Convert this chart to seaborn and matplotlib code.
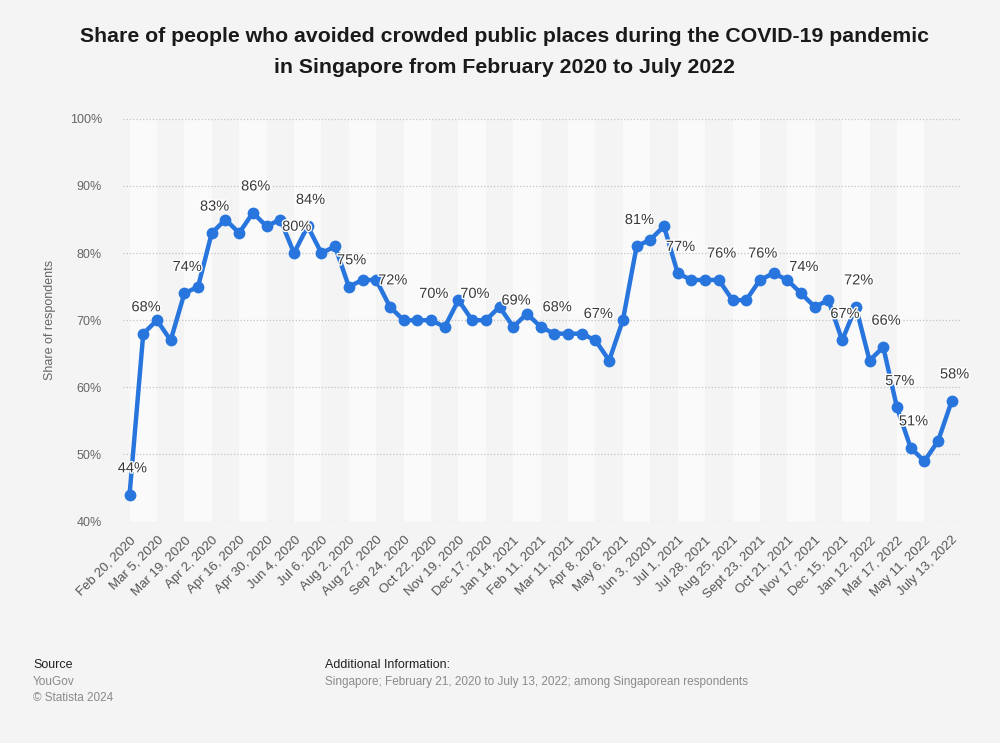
import numpy as np
import pandas as pd
import matplotlib
matplotlib.use('Agg')
import matplotlib.pyplot as plt
import matplotlib.patheffects as pe
import seaborn as sns

# data (survey waves, every other wave is labelled on the axis)
share = [44, 68, 70, 67, 74, 75, 83, 85, 83, 86, 84, 85, 80, 84, 80, 81, 75, 76, 76, 72,
         70, 70, 70, 69, 73, 70, 70, 72, 69, 71, 69, 68, 68, 68, 67, 64, 70, 81, 82, 84,
         77, 76, 76, 76, 73, 73, 76, 77, 76, 74, 72, 73, 67, 72, 64, 66, 57, 51, 49, 52, 58]
tick_labels = ['Feb 20, 2020', 'Mar 5, 2020', 'Mar 19, 2020', 'Apr 2, 2020', 'Apr 16, 2020',
               'Apr 30, 2020', 'Jun 4, 2020', 'Jul 6, 2020', 'Aug 2, 2020', 'Aug 27, 2020',
               'Sep 24, 2020', 'Oct 22, 2020', 'Nov 19, 2020', 'Dec 17, 2020', 'Jan 14, 2021',
               'Feb 11, 2021', 'Mar 11, 2021', 'Apr 8, 2021', 'May 6, 2021', 'Jun 3, 20201',
               'Jul 1, 2021', 'Jul 28, 2021', 'Aug 25, 2021', 'Sept 23, 2021', 'Oct 21, 2021',
               'Nov 17, 2021', 'Dec 15, 2021', 'Jan 12, 2022', 'Mar 17, 2022', 'May 11, 2022',
               'July 13, 2022']
labelled = [0, 1, 4, 6, 9, 12, 13, 16, 19, 22, 25, 28, 31, 34, 37, 40, 43, 46, 49, 52, 53,
            55, 56, 57, 60]
title_lines = ['Share of people who avoided crowded public places during the COVID-19 pandemic',
               'in Singapore from February 2020 to July 2022']

df = pd.DataFrame({'wave': np.arange(len(share)), 'share': share})

sns.set_style('white', {'axes.facecolor': '#f4f4f4', 'figure.facecolor': '#f4f4f4'})
plt.rcParams['font.family'] = ['Liberation Sans', 'DejaVu Sans']

blue = '#2876dd'
fig = plt.figure(figsize=(10, 7.43), dpi=100)
ax = fig.add_axes([0.1227, 0.298, 0.8373, 0.542])

# alternating column bands, two waves each
for k in range(0, len(share) - 1, 2):
    if (k // 2) % 2 == 0:
        ax.axvspan(k, k + 2, color='#fafafa', lw=0, zorder=0)

for y in range(40, 101, 10):
    ax.axhline(y, color='#c4c4c4', lw=0.9, ls=(0, (1, 1.6)), zorder=1)

sns.lineplot(data=df, x='wave', y='share', ax=ax, color=blue, lw=3.2, marker='o',
             markersize=8.5, markeredgewidth=0, zorder=3)

for i in labelled:
    ax.annotate(f'{share[i]}%', (df.wave[i], df.share[i]), xytext=(2, 19),
                textcoords='offset points', ha='center', va='center', fontsize=10.5,
                color='#3a3a3a', zorder=4,
                path_effects=[pe.withStroke(linewidth=2, foreground='white')])

ax.set_xlim(-0.5, len(share) - 0.4)
ax.set_ylim(40, 100)
ax.set_yticks(range(40, 101, 10))
ax.set_yticklabels([f'{v}%' for v in range(40, 101, 10)], fontsize=9, color='#666666')
ax.set_xticks(df.wave[::2])
ax.set_xticklabels(tick_labels, rotation=45, ha='right', rotation_mode='anchor',
                   fontsize=9.5, color='#555555')
ax.tick_params(axis='y', length=0, pad=15)
ax.tick_params(axis='x', length=0, pad=9)
ax.set_xlabel('')
ax.set_ylabel('Share of respondents', fontsize=9, color='#666666', labelpad=10)
sns.despine(ax=ax, left=True, bottom=True)

for line, base in zip(title_lines, [42, 73]):
    fig.text(0.505, 1 - base / 743, line, ha='center', va='baseline',
             fontsize=15.3, fontweight='bold', color='#1a1a1a')

fig.text(0.033, 1 - 665 / 743, 'Source', fontsize=9, color='#222222', va='center')
fig.text(0.033, 1 - 682 / 743, 'YouGov', fontsize=8.5, color='#8a8a8a', va='center')
fig.text(0.033, 1 - 698 / 743, '\u00a9 Statista 2024', fontsize=8.5, color='#8a8a8a', va='center')
fig.text(0.325, 1 - 665 / 743, 'Additional Information:', fontsize=9, color='#222222', va='center')
fig.text(0.325, 1 - 682 / 743,
         'Singapore; February 21, 2020 to July 13, 2022; among Singaporean respondents',
         fontsize=8.5, color='#8a8a8a', va='center')

fig.savefig('out.png', dpi=100, facecolor=fig.get_facecolor())
